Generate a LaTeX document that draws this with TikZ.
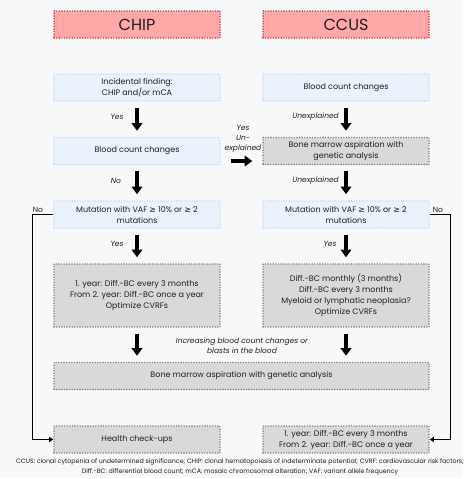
\documentclass[tikz,border=0pt]{standalone}
\usepackage{fontspec}
\setmainfont{Poppins}
\newfontfamily\symfont{DejaVu Sans}
\usetikzlibrary{arrows.meta}
\definecolor{bg}{HTML}{F7F8FA}
\definecolor{hdrfill}{HTML}{FFA8A8}
\definecolor{hdrline}{HTML}{D42A35}
\definecolor{bluefill}{HTML}{EAF3FB}
\definecolor{blueline}{HTML}{C9DAEA}
\definecolor{grayfill}{HTML}{D9D9D9}
\definecolor{grayline}{HTML}{7F7F7F}
\definecolor{txt}{HTML}{1E1E1E}
\newcommand{\GE}{{\symfont ≥}}
\begin{document}
\begin{tikzpicture}[x=1pt,y=-1pt,
  dotline/.style={line width=1.6pt, dash pattern=on 0pt off 2.6pt, line cap=round},
  box/.style={draw, dotline, minimum width=166pt, minimum height=27pt, align=center,
    font=\fontsize{8}{11}\selectfont, text=txt, inner sep=1pt},
  hdr/.style={box, fill=hdrfill, draw=hdrline, font=\fontsize{16}{18}\selectfont},
  bluebox/.style={box, fill=bluefill, draw=blueline},
  graybox/.style={box, fill=grayfill, draw=grayline},
  bigarrow/.style={-{Triangle[width=10.5pt,length=7.5pt]}, line width=4.3pt, shorten <=6pt, shorten >=6pt},
  thinarrow/.style={-{Triangle[width=5pt,length=4pt]}, line width=1.1pt},
  lbl/.style={font=\fontsize{7.5}{10}\selectfont\itshape, text=txt, inner sep=1pt},
  nolbl/.style={font=\fontsize{7.5}{10}\selectfont, text=txt, inner sep=1pt}
]
\useasboundingbox (0,0) rectangle (474,479);
\fill[white] (0,0) rectangle (474,479);
\fill[bg] (0,0) rectangle (463,477);

% headers
\node[hdr] (chip) at (137,24.5) {CHIP};
\node[hdr] (ccus) at (346,24.5) {CCUS};

% row 1
\node[bluebox] (inc) at (137,87.5) {Incidental finding:\\CHIP and/or mCA};
\node[bluebox] (bcc1) at (346,87.5) {Blood count changes};

% row 2
\node[bluebox] (bcc2) at (137,151) {Blood count changes};
\node[graybox] (bm1) at (346,151) {Bone marrow aspiration with\\genetic analysis};

% row 3
\node[bluebox] (mut1) at (137,214.5) {Mutation with VAF \GE{} 10\% or \GE{} 2\\mutations};
\node[bluebox] (mut2) at (346,214.5) {Mutation with VAF \GE{} 10\% or \GE{} 2\\mutations};

% row 4
\node[graybox, minimum height=63pt] (mon1) at (137,295.5)
  {1. year: Diff.-BC every 3 months\\From 2. year: Diff.-BC once a year\\Optimize CVRFs};
\node[graybox, minimum height=63pt] (mon2) at (346,295.5)
  {Diff.-BC monthly (3 months)\\Diff.-BC every 3 months\\Myeloid or lymphatic neoplasia?\\Optimize CVRFs};

% row 5
\node[graybox, minimum width=375pt] (bm2) at (241.5,376) {Bone marrow aspiration with genetic analysis};

% row 6
\node[graybox] (hc) at (137,439.5) {Health check-ups};
\node[graybox] (fin) at (346,439.5) {1. year: Diff.-BC every 3 months\\From 2. year: Diff.-BC once a year};

% big arrows
\draw[bigarrow] (inc) -- (bcc2);
\draw[bigarrow] (bcc1) -- (bm1);
\draw[bigarrow] (bcc2) -- (mut1);
\draw[bigarrow] (bm1) -- (mut2);
\draw[bigarrow] (mut1) -- (mon1);
\draw[bigarrow] (mut2) -- (mon2);
\draw[bigarrow] (mon1) -- (mon1 |- bm2.north);
\draw[bigarrow] (mon2) -- (mon2 |- bm2.north);
\draw[bigarrow, shorten <=10pt, shorten >=10pt] ([yshift=-10pt]bcc2.east) -- ([yshift=-10pt]bm1.west);

% arrow labels
\node[lbl] (l1) at (117,117) {Yes};
\node[lbl, anchor=east] (l2) at (340,117) {Unexplained};
\node[lbl] (l3) at (116,181) {No};
\node[lbl, anchor=east] (l4) at (340,181) {Unexplained};
\node[lbl] (l5) at (117,244) {Yes};
\node[lbl] (l6) at (330,244) {Yes};
\node[lbl, align=center] (l7) at (243,138.5) {Yes\\Un-\\explained};
\node[lbl, align=center] (l8) at (242,345.5) {Increasing blood count changes or\\blasts in the blood};

% No loops
\draw[thinarrow] (mut1.west) -- ++(-21,0) |- (hc.west);
\draw[thinarrow] (mut2.east) -- ++(21,0) |- (fin.east);
\node[nolbl, anchor=south] (no1) at (38,214) {No};
\node[nolbl, anchor=south] (no2) at (438,214) {No};

% footnote
\node[font=\fontsize{6.3}{10}\selectfont, text=txt, align=center] (foot) at (240,467)
  {CCUS: clonal cytopenia of undetermined significance; CHIP: clonal hematopoiesis of indeterminate potential; CVRF: cardiovascular risk factors;\\
   Diff.-BC: differential blood count; mCA: mosaic chromosomal alteration; VAF: variant allele frequency};
\end{tikzpicture}
\end{document}
